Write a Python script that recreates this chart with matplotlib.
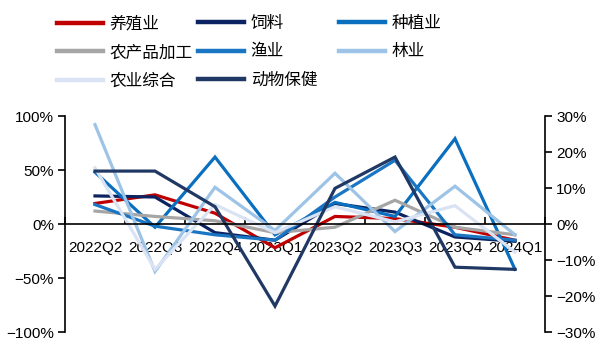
import numpy as np
import matplotlib.pyplot as plt
from matplotlib.ticker import FuncFormatter

plt.rcParams['font.family'] = ['Liberation Sans', 'Noto Sans CJK SC', 'DejaVu Sans']

# 季度同比增速 (%)
quarters = ['2022Q2', '2022Q3', '2022Q4', '2023Q1', '2023Q2', '2023Q3', '2023Q4', '2024Q1']
yangzhi = [19, 27, 10, -22, 7, 5, -3, -15]        # 养殖业
siliao = [26, 25, -8, -15, 19, 11, -12, -16]      # 饲料
zhongzhi = [48, -3, 62, -10, 20, 7, 79, -42]      # 种植业
jiagong = [12, 7, 3, -8, -3, 22, -3, -10]         # 农产品加工
yuye = [18, -2, -10, -15, 25, 59, -10, -15]       # 渔业
linye = [92, -44, 34, -6, 47, -7, 35, -10]        # 林业
zonghe = [52, -42, 18, -8, 16, 2, 17, -26]        # 农业综合
dongbao = [49, 49, 16, -76, 33, 62, -40, -42]     # 动物保健

series = [
    ('养殖业', yangzhi, '#C00000'),
    ('饲料', siliao, '#0B2360'),
    ('种植业', zhongzhi, '#0A6FBF'),
    ('农产品加工', jiagong, '#A6A6A6'),
    ('渔业', yuye, '#1A75C2'),
    ('林业', linye, '#9DC3E6'),
    ('农业综合', zonghe, '#DAE3F3'),
    ('动物保健', dongbao, '#203864'),
]

fig = plt.figure(figsize=(5.96, 3.38), dpi=100)
ax = fig.add_axes([65 / 596, 6 / 338, 480 / 596, 216 / 338])
x = np.arange(len(quarters))

lines = {}
for name, vals, color in series:
    ln, = ax.plot(x, vals, color=color, lw=2.3, label=name, solid_joinstyle='miter')
    lines[name] = ln

ax.set_xlim(-0.5, len(quarters) - 0.5)
ax.set_ylim(-100, 100)
ax.set_yticks([-100, -50, 0, 50, 100])
ax.yaxis.set_major_formatter(FuncFormatter(lambda v, p: f'{v:.0f}%'.replace('-', '\u2212')))

for s in ['top', 'right']:
    ax.spines[s].set_visible(False)
ax.spines['bottom'].set_position(('data', 0))
ax.spines['left'].set_linewidth(1.2)
ax.spines['bottom'].set_linewidth(1.2)

ax.set_xticks(x)
ax.set_xticklabels(quarters)
ax.set_xticks(np.arange(len(quarters) + 1) - 0.5, minor=True)
ax.tick_params(axis='x', which='major', length=0, pad=12, labelsize=11)
ax.tick_params(axis='x', which='minor', direction='in', length=5, width=1.2)
ax.tick_params(axis='y', length=5, width=1.2, labelsize=11, pad=3)

ax2 = ax.twinx()
ax2.set_ylim(-30, 30)
ax2.set_yticks(np.arange(-30, 31, 10))
ax2.yaxis.set_major_formatter(FuncFormatter(lambda v, p: f'{v:.0f}%'.replace('-', '\u2212')))
for s in ['top', 'left', 'bottom']:
    ax2.spines[s].set_visible(False)
ax2.spines['right'].set_linewidth(1.2)
ax2.tick_params(axis='y', length=5, width=1.2, labelsize=11, pad=3)

# legend laid out in three columns
columns = [
    (['养殖业', '农产品加工', '农业综合'], 57),
    (['饲料', '渔业', '动物保健'], 198),
    (['种植业', '林业'], 339),
]
for names, left in columns:
    leg = fig.legend([lines[n] for n in names], names, loc='upper left',
                     bbox_to_anchor=(left / 596, 1 - 16 / 338), frameon=False,
                     fontsize=12, handlelength=2.75, handletextpad=0.42,
                     labelspacing=0.8, borderaxespad=0, borderpad=0)
    for h in leg.legend_handles:
        h.set_linewidth(3.2)

fig.savefig('out.png', dpi=100)
